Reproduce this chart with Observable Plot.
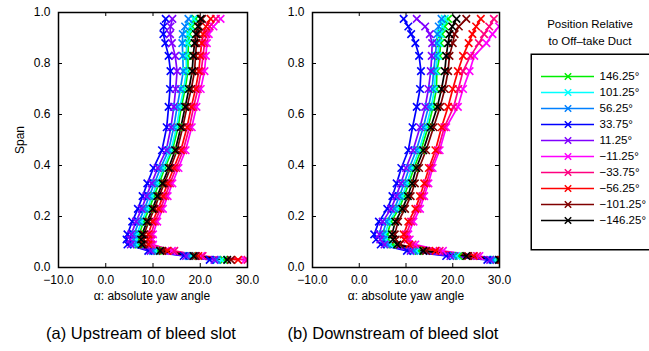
<!DOCTYPE html>
<html>
<head>
<meta charset="utf-8">
<script src="https://cdn.jsdelivr.net/npm/d3@7"></script>
<script src="https://cdn.jsdelivr.net/npm/@observablehq/plot@0.6"></script>
<style>
  html, body { margin: 0; padding: 0; background: #fff; }
  #chart { position: relative; width: 649px; height: 351px; overflow: hidden; font-family: "Liberation Sans", Arial, sans-serif; color: #000; }
  #chart svg { position: absolute; overflow: visible; }
  .lbl { position: absolute; white-space: nowrap; transform: translate(-50%, -50%); line-height: 1; }
</style>
</head>
<body>
<div id="chart"></div>
<script>
// ---------- data ----------
const spans = [0.03, 0.045, 0.065, 0.09, 0.11, 0.13, 0.18, 0.23, 0.28, 0.33, 0.39, 0.46, 0.55, 0.63, 0.70, 0.77, 0.83, 0.88, 0.915, 0.945, 0.975];

const seriesLabels = ["146.25°", "101.25°", "56.25°", "33.75°", "11.25°", "−11.25°", "−33.75°", "−56.25°", "−101.25°", "−146.25°"];
const seriesColors = ["#00ee00", "#00ffff", "#0080ff", "#0000ff", "#8000ff", "#ff00ff", "#ff0080", "#ff0000", "#800000", "#000000"];

const xTicks = [-10, 0, 10, 20, 30];
const yTicks = [0, 0.2, 0.4, 0.6, 0.8, 1.0];

// (a) Upstream of bleed slot — yaw angle per span
const up146 = [25.0, 18.3, 11.0, 7.0, 7.0, 7.1, 8.0, 9.2, 10.2, 11.3, 12.5, 14.1, 15.3, 16.0, 16.8, 17.4, 17.4, 17.5, 17.7, 18.3, 19.0];
const up101 = [24.5, 18.0, 10.5, 6.6, 6.5, 6.6, 7.6, 8.8, 9.8, 10.9, 12.2, 13.8, 15.0, 15.7, 16.5, 17.1, 17.0, 17.2, 17.4, 17.9, 18.6];
const up56  = [23.5, 17.5, 10.0, 6.0, 5.9, 6.0, 7.0, 8.2, 9.2, 10.3, 11.6, 13.3, 14.4, 15.1, 15.8, 16.4, 16.3, 16.2, 16.3, 16.8, 17.5];
const up33  = [22.0, 16.5, 9.0, 4.6, 4.4, 4.6, 5.6, 6.8, 7.8, 8.8, 10.1, 11.9, 12.9, 13.3, 13.6, 13.7, 13.3, 12.6, 12.2, 12.3, 12.7];
const up11  = [23.0, 17.0, 9.5, 5.3, 5.2, 5.4, 6.4, 7.6, 8.6, 9.7, 11.0, 12.8, 13.8, 14.4, 14.8, 15.1, 14.7, 14.0, 13.6, 13.7, 14.1];
const upM11 = [29.5, 20.2, 14.0, 10.0, 9.9, 10.0, 10.9, 12.1, 13.1, 14.1, 15.4, 16.9, 18.2, 19.2, 20.1, 20.9, 21.2, 21.4, 21.8, 22.8, 24.3];
const upM33 = [30.0, 20.5, 14.5, 9.6, 9.5, 9.6, 10.4, 11.6, 12.6, 13.6, 14.9, 16.4, 17.7, 18.6, 19.5, 20.2, 20.6, 20.9, 21.3, 22.0, 23.3];
const upM56 = [28.0, 19.6, 13.0, 9.0, 8.9, 9.0, 9.9, 11.1, 12.1, 13.1, 14.4, 15.9, 17.2, 18.1, 19.0, 19.7, 20.0, 20.3, 20.6, 21.2, 22.2];
const upM101 = [26.5, 19.0, 12.0, 8.0, 8.0, 8.1, 9.1, 10.3, 11.3, 12.4, 13.7, 15.1, 16.3, 17.2, 18.1, 18.8, 19.0, 19.2, 19.5, 19.8, 20.4];
const upM146 = [25.7, 18.6, 11.5, 7.6, 7.5, 7.7, 8.7, 9.9, 10.9, 12.0, 13.3, 14.7, 15.9, 16.8, 17.6, 18.3, 18.5, 18.8, 19.1, 19.5, 20.1];

// (b) Downstream of bleed slot
const dn146 = [29.3, 21.3, 12.7, 7.1, 6.2, 6.0, 6.8, 8.5, 9.6, 10.6, 11.7, 13.2, 14.7, 15.8, 16.5, 16.6, 17.2, 17.4, 17.7, 18.3, 19.0];
const dn101 = [29.0, 20.8, 12.2, 6.6, 5.8, 5.5, 6.4, 8.1, 9.2, 10.2, 11.3, 12.8, 14.3, 15.4, 16.1, 16.3, 16.8, 17.0, 17.3, 17.8, 18.3];
const dn56  = [28.5, 20.2, 11.7, 6.0, 5.2, 5.0, 5.8, 7.5, 8.6, 9.6, 10.7, 12.2, 13.7, 14.8, 15.6, 15.9, 16.3, 16.5, 16.7, 17.0, 17.6];
const dn33  = [27.4, 18.6, 10.2, 4.6, 3.6, 3.2, 4.2, 6.0, 7.1, 8.0, 9.0, 10.5, 11.4, 12.3, 13.0, 13.2, 12.8, 12.0, 11.1, 10.5, 9.5];
const dn11  = [28.0, 19.5, 11.0, 5.4, 4.5, 4.3, 5.0, 6.8, 7.9, 8.9, 10.0, 11.5, 13.0, 14.1, 14.8, 15.3, 15.5, 15.6, 15.1, 14.1, 12.3];
const dnM11 = [31.0, 25.7, 17.9, 12.0, 10.8, 10.5, 11.6, 13.0, 13.9, 14.8, 15.7, 17.2, 18.6, 21.1, 22.2, 23.6, 24.6, 27.2, 28.5, 29.9, 31.0];
const dnM33 = [31.0, 25.2, 17.2, 11.4, 10.3, 10.0, 11.1, 12.5, 13.5, 14.4, 15.3, 16.8, 18.2, 20.2, 21.2, 22.2, 23.8, 25.6, 26.7, 27.8, 28.8];
const dnM56 = [30.5, 24.5, 16.3, 10.7, 9.6, 9.5, 10.5, 12.0, 13.0, 13.9, 14.9, 16.3, 17.6, 19.0, 20.0, 21.1, 22.2, 23.4, 24.2, 25.0, 26.0];
const dnM101 = [30.2, 23.3, 14.3, 8.7, 7.8, 7.6, 8.3, 9.8, 11.0, 11.9, 12.8, 14.3, 15.9, 17.3, 18.3, 19.0, 19.3, 20.0, 20.4, 21.3, 22.9];
const dnM146 = [29.9, 22.9, 13.7, 8.1, 7.2, 7.0, 7.7, 9.2, 10.4, 11.3, 12.2, 13.7, 15.3, 16.7, 17.6, 18.3, 18.6, 19.0, 19.3, 19.9, 20.8];

const upstream = [up146, up101, up56, up33, up11, upM11, upM33, upM56, upM101, upM146];
const downstream = [dn146, dn101, dn56, dn33, dn11, dnM11, dnM33, dnM56, dnM101, dnM146];

// ---------- build ----------
const chart = document.getElementById("chart");
const fmt = d => d.toFixed(1).replace("-", "−");

function rows(valueSets) {
  const out = [];
  valueSets.forEach((vals, i) => {
    vals.forEach((v, j) => out.push({series: seriesLabels[i], color: seriesColors[i], x: v, span: spans[j], order: i}));
  });
  return out;
}

function panel(valueSets, left, marginRight) {
  const width = 260, height = 300;
  const mt = 12, mb = 33, ml = 58;
  const innerH = height - mt - mb;
  const innerW = width - ml - marginRight;
  const data = rows(valueSets);
  const svg = Plot.plot({
    width, height,
    marginTop: mt, marginBottom: mb, marginLeft: ml, marginRight,
    style: {fontFamily: "'Liberation Sans', Arial, sans-serif", fontSize: "12px", background: "transparent", overflow: "visible"},
    x: {domain: [-10, 30], ticks: xTicks, tickFormat: fmt, tickSize: 0, tickPadding: 8, label: null},
    y: {domain: [0, 1], ticks: yTicks, tickFormat: fmt, tickSize: 0, tickPadding: 8, label: null},
    color: {type: "identity"},
    marks: [
      Plot.ruleX(xTicks, {x: d => d, insetTop: innerH - 4, stroke: "#000", strokeWidth: 1}),
      Plot.ruleX(xTicks, {x: d => d, insetBottom: innerH - 4, stroke: "#000", strokeWidth: 1}),
      Plot.ruleY(yTicks, {y: d => d, insetRight: innerW - 4, stroke: "#000", strokeWidth: 1}),
      Plot.ruleY(yTicks, {y: d => d, insetLeft: innerW - 4, stroke: "#000", strokeWidth: 1}),
      ...seriesLabels.map((s, i) => Plot.line(data.filter(d => d.order === i), {x: "x", y: "span", stroke: "color", strokeWidth: 1.7, clip: true})),
      ...seriesLabels.map((s, i) => Plot.dot(data.filter(d => d.order === i), {x: "x", y: "span", stroke: "color", symbol: "times", r: 3.5, strokeWidth: 1.6, clip: true})),
      Plot.frame({stroke: "#000", strokeWidth: 1.5})
    ]
  });
  svg.style.left = left + "px";
  svg.style.top = "0px";
  chart.appendChild(svg);
}

panel(upstream, 0, 13);
panel(downstream, 254, 15);

// legend
const legend = Plot.plot({
  width: 140, height: 197,
  marginTop: 0, marginBottom: 0, marginLeft: 0, marginRight: 0,
  style: {fontFamily: "'Liberation Sans', Arial, sans-serif", fontSize: "11.5px", background: "#fff", overflow: "visible"},
  x: {domain: [0, 1], range: [11, 64], axis: null},
  y: {type: "point", domain: seriesLabels, range: [13.7, 176.5], axis: null},
  color: {type: "identity"},
  marks: [
    Plot.frame({stroke: "#000", strokeWidth: 1.5, inset: 0.75}),
    Plot.ruleY(seriesLabels, {y: d => d, x1: () => 0, x2: () => 1, stroke: (d, i) => seriesColors[i], strokeWidth: 1.5}),
    Plot.dot(seriesLabels, {y: d => d, x: () => 0.5, stroke: (d, i) => seriesColors[i], symbol: "times", r: 3, strokeWidth: 1.5}),
    Plot.text(seriesLabels, {y: d => d, x: () => 1, text: d => d, dx: 5, textAnchor: "start", fill: "#000"})
  ]
});
legend.style.left = "530px";
legend.style.top = "53px";
chart.appendChild(legend);

// text labels
function label(text, x, y, size, rotate) {
  const el = document.createElement("div");
  el.className = "lbl";
  el.textContent = text;
  el.style.left = x + "px";
  el.style.top = y + "px";
  el.style.fontSize = size + "px";
  if (rotate) el.style.transform = "translate(-50%, -50%) rotate(-90deg)";
  chart.appendChild(el);
}
label("Span", 20, 140, 12, true);
label("α: absolute yaw angle", 152, 296, 12);
label("α: absolute yaw angle", 406, 296, 12);
label("(a) Upstream of bleed slot", 141, 333, 16.5);
label("(b) Downstream of bleed slot", 393, 333, 16.5);
label("Position Relative", 590, 25, 11.5);
label("to Off\u2013take Duct", 590, 42, 11.5);
</script>
</body>
</html>
